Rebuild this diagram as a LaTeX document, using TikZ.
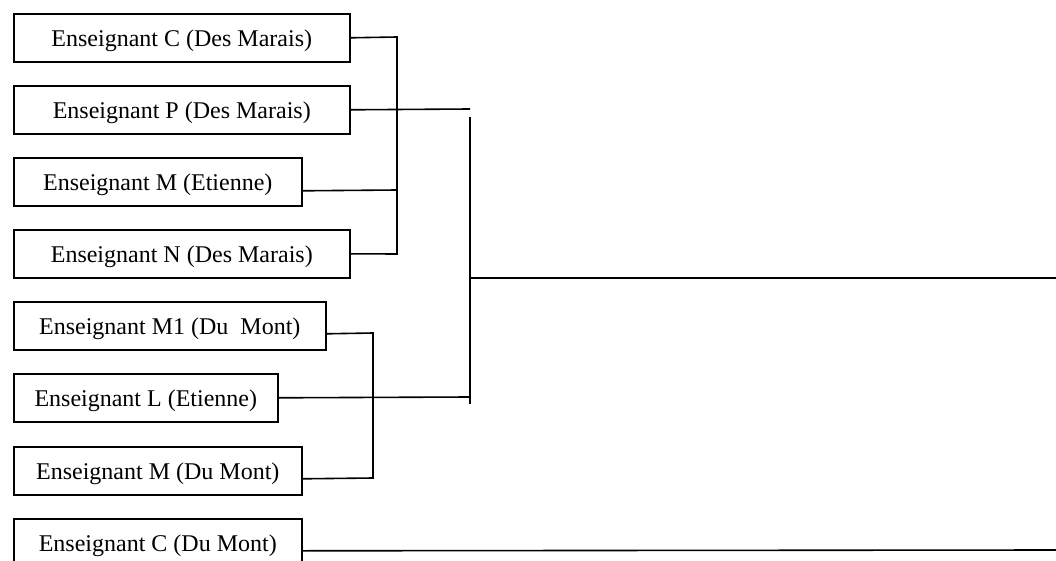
\documentclass[tikz,border=0pt]{standalone}
\usepackage{fontspec}
\setmainfont{Liberation Serif}
\begin{document}
\begin{tikzpicture}[x=1pt,y=-1pt,
  tbox/.style={draw,line width=1.6pt,rectangle,anchor=north west,inner sep=0pt,
    minimum height=48pt,font=\fontsize{24}{28}\selectfont,text height=20pt,text depth=2pt},
  conn/.style={line width=1.6pt}]
\useasboundingbox (0,0) rectangle (1056,561);
\clip (0,0) rectangle (1056,561);
\node[tbox,minimum width=336pt] (b1) at (13,13) {Enseignant C (Des Marais)};
\node[tbox,minimum width=336pt] (b2) at (13,85) {Enseignant P (Des Marais)};
\node[tbox,minimum width=288pt] (b3) at (13,157) {Enseignant M (Etienne)};
\node[tbox,minimum width=336pt] (b4) at (13,229) {Enseignant N (Des Marais)};
\node[tbox,minimum width=312pt] (b5) at (13,301) {Enseignant M1 (Du\ \ Mont)};
\node[tbox,minimum width=264pt] (b6) at (13,373) {Enseignant L (Etienne)};
\node[tbox,minimum width=288pt] (b7) at (13,446) {Enseignant M (Du Mont)};
\node[tbox,minimum width=288pt] (b8) at (13,518) {Enseignant C (Du Mont)};
% group 1
\coordinate (g1t) at (397,37);
\coordinate (g1b) at (397,254);
\coordinate (g1m) at (397,190);
\draw[conn] (b1.east) -- (g1t) -- (g1b) -- (b4.east);
\draw[conn] ([yshift=-9pt]b3.east) -- (g1m);
% group 2
\coordinate (g2t) at (373,333);
\coordinate (g2b) at (373,478);
\draw[conn] ([yshift=-8pt]b5.east) -- (g2t) -- (g2b) -- ([yshift=-8pt]b7.east);
% main bracket
\coordinate (p2) at (470,109);
\coordinate (vt) at (470,117);
\coordinate (vb) at (470,404);
\coordinate (l6) at (470,397);
\coordinate (vm) at (470,278);
\coordinate (r1) at (1056,278);
\coordinate (r2) at (1056,550);
\draw[conn] (b2.east) -- (p2);
\draw[conn] (vt) -- (vb);
\draw[conn] (b6.east) -- (l6);
\draw[conn] (vm) -- (r1);
\draw[conn] ([yshift=-8pt]b8.east) -- (r2);
\end{tikzpicture}
\end{document}
